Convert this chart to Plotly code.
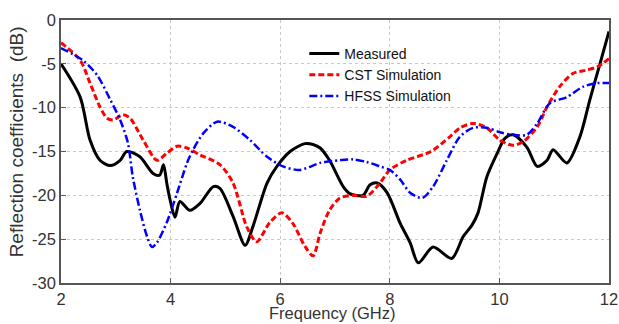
import plotly.graph_objects as go

meas_f = [2.0, 2.35, 2.53, 2.71, 2.9, 3.08, 3.2, 3.44, 3.68, 3.8, 3.87, 3.93, 3.99, 4.08, 4.17, 4.35, 4.54, 4.78, 4.9,
          5.14, 5.36, 5.5, 5.76, 5.94, 6.18, 6.45, 6.6, 6.73, 6.9, 7.15, 7.27, 7.51, 7.64, 7.77, 7.95, 8.19, 8.37, 8.52,
          8.79, 9.13, 9.34, 9.5, 9.61, 9.77, 9.96, 10.1, 10.25, 10.5, 10.69, 10.87, 10.98, 11.23, 11.47, 11.65, 11.84, 12.0]
meas_db = [-5.0, -8.8, -13.7, -16.0, -16.6, -16.0, -15.0, -15.6, -17.5, -17.7, -16.5, -18.6, -20.5, -22.5, -20.7, -21.7,
           -20.9, -19.0, -19.2, -22.4, -25.7, -23.6, -18.6, -16.7, -15.0, -14.1, -14.2, -14.6, -16.0, -19.0, -19.8, -20.0,
           -18.8, -18.6, -19.7, -23.2, -25.4, -27.7, -25.9, -27.2, -24.7, -23.4, -22.0, -17.9, -15.2, -13.5, -13.1, -14.5,
           -16.7, -16.0, -14.8, -16.3, -13.3, -9.1, -4.9, -1.3]

cst_f = [2.0, 2.35, 2.53, 2.71, 2.84, 2.95, 3.13, 3.26, 3.5, 3.75, 3.93, 4.12, 4.3, 4.54, 4.9, 5.14, 5.39, 5.57, 5.81,
         6.03, 6.23, 6.45, 6.6, 6.73, 6.9, 7.09, 7.33, 7.58, 7.82, 8.0, 8.31, 8.75, 9.1, 9.28, 9.52, 9.77, 10.01, 10.25,
         10.43, 10.69, 10.87, 11.1, 11.34, 11.6, 11.8, 12.0]
cst_db = [-2.6, -4.6, -7.2, -9.9, -11.2, -11.4, -10.8, -11.2, -13.7, -16.0, -15.2, -14.4, -14.6, -15.4, -16.5, -18.6,
          -23.6, -25.3, -23.1, -22.0, -23.2, -25.8, -26.9, -24.3, -21.7, -20.3, -20.0, -20.1, -18.6, -17.1, -16.0, -15.0,
          -13.3, -12.3, -11.8, -12.3, -13.7, -14.3, -13.9, -12.2, -9.9, -7.6, -6.1, -5.7, -5.3, -4.4]

hfss_f = [2.0, 2.4, 2.66, 2.9, 3.08, 3.22, 3.31, 3.44, 3.57, 3.66, 3.75, 3.93, 4.12, 4.3, 4.41, 4.6, 4.85, 5.14, 5.45,
          5.76, 6.05, 6.36, 6.73, 7.09, 7.33, 7.58, 7.82, 8.0, 8.19, 8.37, 8.59, 8.79, 9.04, 9.28, 9.52, 9.77, 10.01,
          10.25, 10.5, 10.69, 10.92, 11.23, 11.53, 11.78, 12.0]
hfss_db = [-3.2, -4.6, -6.3, -9.1, -11.4, -14.0, -17.9, -21.7, -24.7, -25.9, -25.4, -23.1, -19.7, -16.3, -14.8, -12.9,
           -11.6, -12.2, -13.7, -15.6, -16.7, -17.1, -16.3, -16.0, -15.9, -16.2, -16.7, -17.1, -18.2, -19.7, -20.3, -19.0,
           -16.0, -13.3, -12.3, -12.3, -12.8, -13.1, -13.1, -11.8, -9.5, -8.8, -7.6, -7.2, -7.2]

x_ticks = [2, 4, 6, 8, 10, 12]
y_ticks = [0, -5, -10, -15, -20, -25, -30]

x_title = "Frequency (GHz)"
y_title = "Reflection coefficients  (dB)"

fig = go.Figure()
fig.add_trace(go.Scatter(x=meas_f, y=meas_db, mode="lines", name="Measured",
                         line=dict(color="black", width=3, shape="spline", smoothing=0.8)))
fig.add_trace(go.Scatter(x=cst_f, y=cst_db, mode="lines", name="CST Simulation",
                         line=dict(color="#ff0000", width=3, dash="6px,3px", shape="spline", smoothing=0.8)))
fig.add_trace(go.Scatter(x=hfss_f, y=hfss_db, mode="lines", name="HFSS Simulation",
                         line=dict(color="#0000ff", width=2.5, dash="8px,3px,2px,3px", shape="spline", smoothing=0.8)))

axis_common = dict(showline=True, linecolor="#555", linewidth=1.5, mirror=True,
                   ticks="inside", ticklen=5, tickcolor="#555",
                   showgrid=True, gridcolor="#c8c8c8", griddash="dot", gridwidth=1,
                   zeroline=False, tickfont=dict(size=16.5, color="#333"), automargin=False,
                   ticklabeloverflow="allow")

fig.update_xaxes(range=[2, 12], tickvals=x_ticks, ticktext=[str(v) for v in x_ticks], **axis_common)
fig.update_yaxes(range=[-30, 0], tickvals=y_ticks, ticktext=[str(v) for v in y_ticks], **axis_common)

fig.add_annotation(text=x_title, xref="paper", yref="paper", x=0.496, y=-0.155,
                   xanchor="center", yanchor="bottom", showarrow=False,
                   font=dict(size=16.5, color="#333"))
fig.add_annotation(text=y_title.replace("  ", "&nbsp; "), xref="paper", yref="paper", x=-0.082, y=0.535,
                   xanchor="center", yanchor="middle", showarrow=False, textangle=-90,
                   font=dict(size=19, color="#333"))

fig.update_layout(
    width=619, height=324,
    margin=dict(l=61, r=10, t=20, b=41, autoexpand=False),
    paper_bgcolor="white", plot_bgcolor="white",
    font=dict(family="Liberation Sans, Arial", color="#222"),
    showlegend=True,
    legend=dict(x=0.444, y=0.932, xanchor="left", yanchor="top", bgcolor="rgba(255,255,255,0)",
                font=dict(size=14, color="#111"), tracegroupgap=0, itemwidth=30),
)

fig.write_html("out.html", config={"displayModeBar": False},
               post_script="document.body.style.margin='0';document.body.style.overflow='hidden';")
